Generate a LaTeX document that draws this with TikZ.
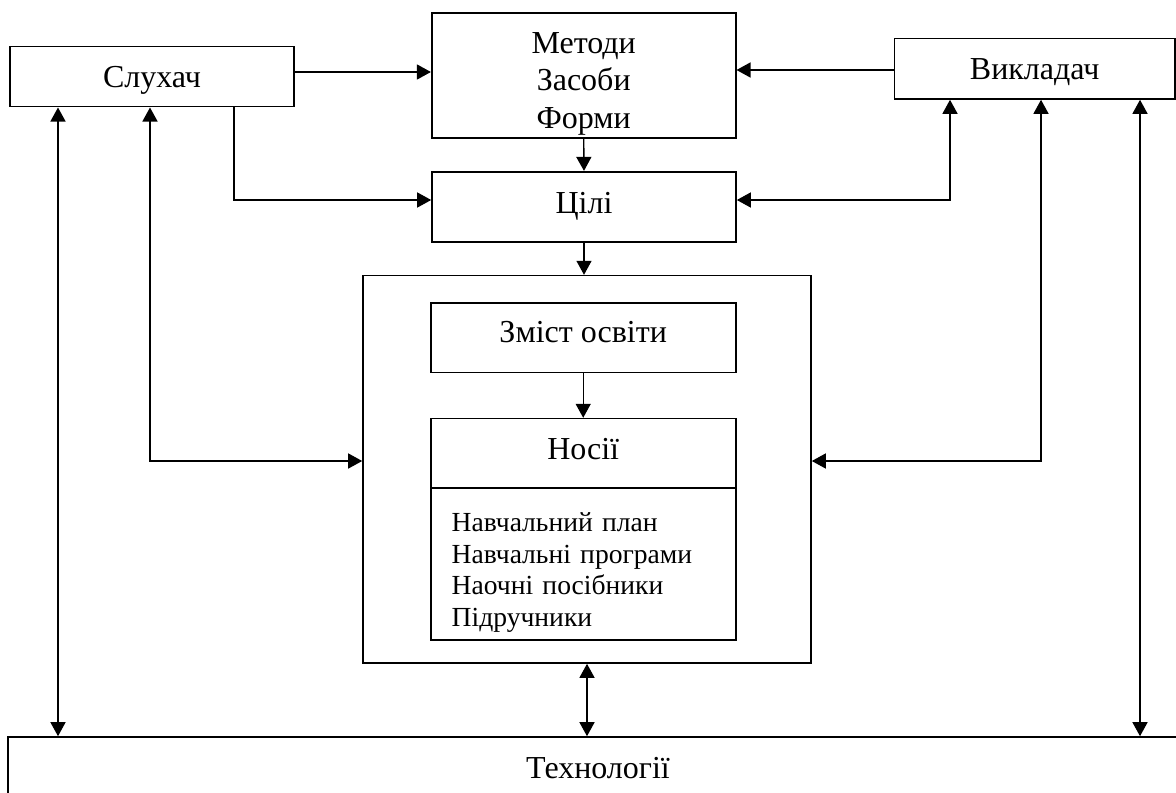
\documentclass[tikz,border=0pt]{standalone}
\usepackage{fontspec}
\setmainfont{Liberation Serif}
\usetikzlibrary{arrows.meta}
\tikzset{
  blok/.style={draw, line width=0.8pt, rectangle, inner sep=0pt, align=center,
    font=\fontsize{16}{18.6}\selectfont},
  str/.style={line width=0.7pt, -{Triangle[length=7pt,width=7.5pt]}},
  str2/.style={line width=0.7pt, {Triangle[length=7pt,width=7.5pt]}-{Triangle[length=7pt,width=7.5pt]}}
}
\begin{document}
\begin{tikzpicture}[x=0.5pt, y=-0.5pt]
  \useasboundingbox (0,0) rectangle (1176,792);
  {\tikzstyle{every node}=[blok]
    \node[minimum width=142pt, minimum height=30pt, text depth=0pt] (sl) at (152,76.7) {Слухач};
    \node[minimum width=152pt, minimum height=62.2pt, text height=52.5pt, text depth=0pt] (met) at (583.7,75.5) {Методи\\Засоби\\Форми};
    \node[minimum width=140.3pt, minimum height=30.3pt, text depth=0pt] (vk) at (1034.7,68.7) {Викладач};
    \node[minimum width=152pt, minimum height=35pt] (cil) at (584,206.7) {Цілі};
    \node[minimum width=224pt, minimum height=193.7pt] (zm) at (587,469.3) {};
    \node[minimum width=152.5pt, minimum height=34.8pt, text depth=5.5pt] (zo) at (583.2,337.8) {Зміст освіти};
    \node[minimum width=152.5pt, minimum height=34.7pt, text depth=4.8pt] (no) at (583.2,453.3) {Носії};
    \node[minimum width=152.5pt, minimum height=76pt, text width=131.5pt, align=left, text depth=42pt,
      font=\fontsize{13.8}{15.8}\selectfont] (pl) at (583.2,564)
      {Навчальний план\\Навчальні програми\\Наочні посібники\\Підручники};
    \node[minimum width=590pt, minimum height=31pt] (teh) at (598,768) {Технології};
  }

  \draw[str] (sl.east |- 0,72) -- (met.west |- 0,72);
  \draw[str] (vk.west |- 0,70) -- (met.east |- 0,70);
  \draw[str] (sl.south -| 234,0) |- (cil.west |- 0,200);
  \draw[str] (met.south) -- (cil.north);
  \draw[str] (cil.south) -- (cil.south |- zm.north);
  \draw[str] (zo.south) -- (no.north);
  \draw[str2] (cil.east |- 0,200) -| (vk.south -| 950,0);
  \draw[str2] (sl.south -| 150,0) |- (zm.west |- 0,461);
  \draw[str2] (vk.south -| 1041,0) |- (zm.east |- 0,461);
  \foreach \n/\x in {sl/58, vk/1140}
    \draw[str2] (\n.south -| \x,0) -- (teh.north -| \x,0);
  \draw[str2] (zm.south) -- (zm.south |- teh.north);
\end{tikzpicture}
\end{document}
